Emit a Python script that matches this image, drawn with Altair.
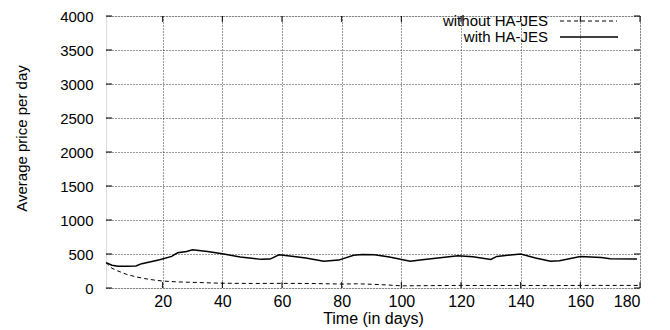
import altair as alt
import pandas as pd

# with HA-JES (solid)
days_with = [1, 3, 5, 8, 11, 13, 16, 19, 23, 25, 28, 30, 35, 40, 46, 53, 56, 59, 64, 68, 74, 79, 84, 87, 91, 96,
             103, 107, 113, 119, 124, 130, 132, 140, 145, 150, 153, 160, 167, 170, 179]
price_with = [374, 335, 320, 320, 325, 358, 385, 415, 465, 518, 538, 562, 537, 504, 455, 421, 425, 489, 464, 440,
              392, 410, 480, 493, 490, 455, 392, 416, 445, 474, 458, 421, 464, 500, 440, 392, 402, 462, 450, 430, 425]

# without HA-JES (dashed)
days_without = [1, 3, 5, 8, 11, 14, 17, 20, 25, 30, 40, 50, 60, 70, 80, 85, 90, 95, 100, 110, 120, 130, 140, 150,
                160, 170, 180]
price_without = [374, 290, 250, 199, 165, 138, 118, 102, 90, 83, 70, 67, 68, 66, 58, 62, 55, 45, 32, 35, 38, 36,
                 38, 35, 38, 38, 38]

x_ticks = [20, 40, 60, 80, 100, 120, 140, 160, 180]
y_ticks = [0, 500, 1000, 1500, 2000, 2500, 3000, 3500, 4000]
series_names = ["without HA-JES", "with HA-JES"]

W, H = 534, 272
FONT = "Liberation Sans"
FS = 16

df_with = pd.DataFrame({"day": days_with, "price": price_with})
df_without = pd.DataFrame({"day": days_without, "price": price_without})
df_xt = pd.DataFrame({"t": x_ticks})
df_yt = pd.DataFrame({"t": y_ticks})

xscale = alt.Scale(domain=[1, 180], nice=False, zero=False)
yscale = alt.Scale(domain=[0, 4000], nice=False)

x_axis = alt.Axis(values=x_ticks, title="Time (in days)", grid=True, gridColor="black", gridDash=[1, 2],
                  gridOpacity=1, gridWidth=0.8, ticks=False, domain=False, labelFont=FONT, labelFontSize=FS,
                  labelColor="black", labelPadding=5, labelOverlap=False, titleFont=FONT, titleFontSize=FS,
                  titleFontWeight="normal", titleColor="black", titlePadding=1, format="d")
y_axis = alt.Axis(values=y_ticks, title="Average price per day", grid=True, gridColor="black", gridDash=[1, 2],
                  gridOpacity=1, gridWidth=0.8, ticks=False, domain=False, labelFont=FONT, labelFontSize=15,
                  labelColor="black", labelPadding=13, labelOverlap=False, titleFont=FONT, titleFontSize=15,
                  titleFontWeight="normal", titleColor="black", titlePadding=30, titleY=122, format="d")

X_DAY = alt.X("day:Q", scale=xscale, axis=x_axis)
Y_PRICE = alt.Y("price:Q", scale=yscale, axis=y_axis)

base_without = alt.Chart(df_without).mark_line(color="black", strokeWidth=1, strokeDash=[4, 3]).encode(
    x=X_DAY, y=Y_PRICE)
line_with = alt.Chart(df_with).mark_line(color="black", strokeWidth=1.5).encode(
    x=X_DAY, y=Y_PRICE)

# inward tick marks (gnuplot style), mirrored
X_T = alt.X("t:Q", scale=xscale, axis=x_axis)
Y_T = alt.Y("t:Q", scale=yscale, axis=y_axis)
xt_bottom = alt.Chart(df_xt).mark_rule(color="black", strokeWidth=1).encode(
    x=X_T, y=alt.value(H), y2=alt.value(H - 6))
xt_top = alt.Chart(df_xt).mark_rule(color="black", strokeWidth=1).encode(
    x=X_T, y=alt.value(0), y2=alt.value(6))
yt_left = alt.Chart(df_yt).mark_rule(color="black", strokeWidth=1).encode(
    y=Y_T, x=alt.value(0), x2=alt.value(6))
yt_right = alt.Chart(df_yt).mark_rule(color="black", strokeWidth=1).encode(
    y=Y_T, x=alt.value(W), x2=alt.value(W - 6))

# legend (text left of sample line, as in gnuplot)
df_leg0 = pd.DataFrame({"name": [series_names[0]]})
df_leg1 = pd.DataFrame({"name": [series_names[1]]})
ROW0, ROW1 = 5, 21
LFS = 15
leg_text0 = alt.Chart(df_leg0).mark_text(align="right", baseline="middle", font=FONT, fontSize=LFS,
                                         color="black").encode(text="name:N", x=alt.value(442), y=alt.value(ROW0))
leg_text1 = alt.Chart(df_leg1).mark_text(align="right", baseline="middle", font=FONT, fontSize=LFS,
                                         color="black").encode(text="name:N", x=alt.value(442), y=alt.value(ROW1))
leg_dash = alt.Chart(df_leg0).mark_rule(color="black", strokeWidth=1, strokeDash=[4, 3]).encode(
    x=alt.value(454), x2=alt.value(511), y=alt.value(ROW0))
leg_solid = alt.Chart(df_leg1).mark_rule(color="black", strokeWidth=1.5).encode(
    x=alt.value(454), x2=alt.value(512), y=alt.value(ROW1))

chart = alt.layer(base_without, line_with, xt_bottom, xt_top, yt_left, yt_right,
                  leg_text0, leg_text1, leg_dash, leg_solid).properties(
    width=W, height=H,
    autosize=alt.AutoSizeParams(type="none"),
    padding={"left": 98, "top": 8, "right": 22, "bottom": 42},
).configure_view(stroke="black", strokeWidth=1.4).configure(background="white")

chart.save("out.html", embed_options={"renderer": "svg", "actions": False})
